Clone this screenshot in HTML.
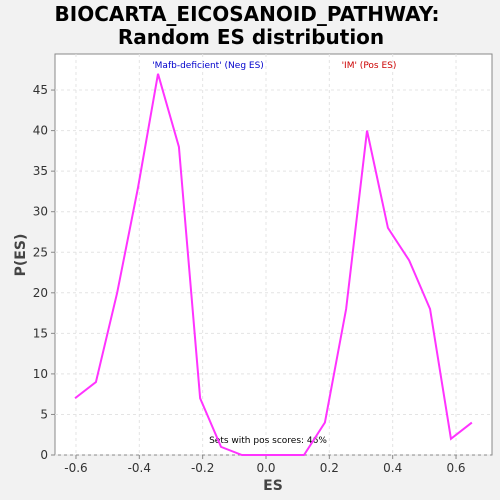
<!DOCTYPE html>
<html><head><meta charset="utf-8"><style>
body{margin:0;background:#f2f2f2;font-family:"DejaVu Sans","Liberation Sans",sans-serif;}
svg{display:block;font-family:"DejaVu Sans","Liberation Sans",sans-serif;}
</style></head><body>
<svg id="chart" width="500" height="500">
<rect x="0" y="0" width="500" height="500" fill="#f2f2f2"/>
<text x="247" y="21" text-anchor="middle" font-size="20" font-weight="bold" fill="#000">BIOCARTA_EICOSANOID_PATHWAY:</text>
<text x="251" y="44" text-anchor="middle" font-size="20" font-weight="bold" fill="#000">Random ES distribution</text>
<rect x="55" y="54" width="437" height="401" fill="#fff" stroke="#888"/>
<g id="grid"></g><g id="axes"></g>
<text x="208" y="68" text-anchor="middle" font-size="9" fill="#0000cc">'Mafb-deficient' (Neg ES)</text>
<text x="369" y="68" text-anchor="middle" font-size="9" fill="#cc0000">'IM' (Pos ES)</text>
<text x="268" y="443" text-anchor="middle" font-size="9" fill="#000">Sets with pos scores: 46%</text>
<text x="273" y="490" text-anchor="middle" font-size="14" font-weight="bold" fill="#444">ES</text>
<text x="25" y="255" text-anchor="middle" font-size="14" font-weight="bold" fill="#444" transform="rotate(-90 25 255)">P(ES)</text>
<path id="line" fill="none" stroke="#ff33ff" stroke-width="2"/>
</svg>
<script>
const esValues=[-0.603,-0.537,-0.47,-0.404,-0.341,-0.275,-0.208,-0.142,-0.076,-0.01,0.054,0.12,0.186,0.253,0.319,0.385,0.452,0.518,0.584,0.65];
const pValues=[7,9,20,33,47,38,7,1,0,0,0,0,4,18,40,28,24,18,2,4];
const xTicks=[-0.6,-0.4,-0.2,0.0,0.2,0.4,0.6];
const xTickLabels=["-0.6","-0.4","-0.2","0.0","0.2","0.4","0.6"];
const yTicks=[0,5,10,15,20,25,30,35,40,45];
const X=v=>266+v*316.7;
const Y=v=>455-v*8.11;
const ns="http://www.w3.org/2000/svg";
const g=document.getElementById('grid'),a=document.getElementById('axes');
function mk(tag,attrs,parent){const e=document.createElementNS(ns,tag);for(const k in attrs)e.setAttribute(k,attrs[k]);parent.appendChild(e);return e;}
xTicks.forEach((t,i)=>{
 const gl=mk('line',{x1:X(t),x2:X(t),y1:54,y2:455,stroke:'#e4e4e4','stroke-dasharray':'3,3'},g);
 
 
 const tk=mk('line',{x1:X(t),x2:X(t),y1:455,y2:459,stroke:'#888'},a);
 
 
 const tx=mk('text',{x:X(t),y:472,'text-anchor':'middle','font-size':12,fill:'#333'},a);
 tx.textContent=xTickLabels[i];
 
 
});
yTicks.forEach(t=>{
 const gl=mk('line',{x1:55,x2:492,y1:Y(t),y2:Y(t),stroke:'#e4e4e4','stroke-dasharray':'3,3'},g);
 
 
 const tk=mk('line',{x1:51,x2:55,y1:Y(t),y2:Y(t),stroke:'#888'},a);
 
 
 const tx=mk('text',{x:48,y:Y(t)+4,'text-anchor':'end','font-size':12,fill:'#333'},a);
 tx.textContent=String(t);
 
 
});
document.getElementById('line').setAttribute('d',esValues.map((v,i)=>(i?'L':'M')+X(v)+','+Y(pValues[i])).join(' '));
</script>
</body></html>
